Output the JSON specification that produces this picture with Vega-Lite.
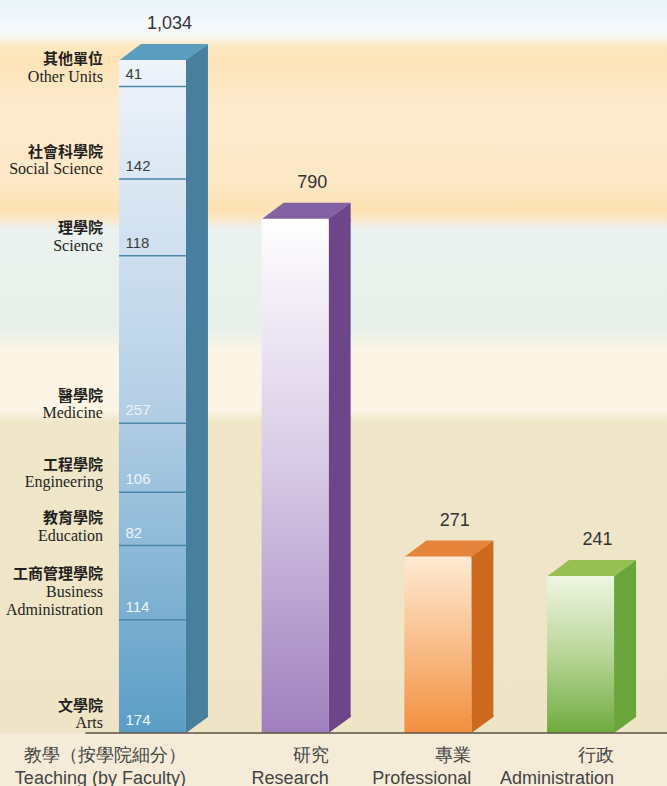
{
  "$schema": "https://vega.github.io/schema/vega-lite/v6.json",
  "width": 667,
  "height": 733,
  "autosize": {"type": "none"},
  "padding": {"left": 0, "top": 0, "right": 0, "bottom": 53},
  "background": "#f4ecd8",
  "view": {
    "stroke": null,
    "fill": {
      "gradient": "linear", "x1": 0, "y1": 0, "x2": 0, "y2": 1,
      "stops": [
        {"offset": 0.0, "color": "#e9f3fa"},
        {"offset": 0.035, "color": "#f4f9fc"},
        {"offset": 0.052, "color": "#f7f6ee"},
        {"offset": 0.062, "color": "#fde8c2"},
        {"offset": 0.08, "color": "#fde4b8"},
        {"offset": 0.15, "color": "#fdebcf"},
        {"offset": 0.25, "color": "#fde8c6"},
        {"offset": 0.285, "color": "#fde2b2"},
        {"offset": 0.3, "color": "#f8e8cc"},
        {"offset": 0.312, "color": "#ebf1ee"},
        {"offset": 0.45, "color": "#e9f0ea"},
        {"offset": 0.48, "color": "#fcf5e6"},
        {"offset": 0.56, "color": "#fcf4e4"},
        {"offset": 0.575, "color": "#f0e6c9"},
        {"offset": 1.0, "color": "#efe4c6"}
      ]
    }
  },
  "config": {"font": "Liberation Sans"},
  "datasets": {
    "totals": [
      {"cat": "教學（按學院細分）|Teaching (by Faculty)", "total": 1034},
      {"cat": "研究|Research", "total": 790},
      {"cat": "專業|Professional", "total": 271},
      {"cat": "行政|Administration", "total": 241}
    ],
    "faculty": [
      {"cat": "教學（按學院細分）|Teaching (by Faculty)", "order": 1, "zh": "文學院", "en": "Arts", "value": 174},
      {"cat": "教學（按學院細分）|Teaching (by Faculty)", "order": 2, "zh": "工商管理學院", "en": "Business\nAdministration", "value": 114},
      {"cat": "教學（按學院細分）|Teaching (by Faculty)", "order": 3, "zh": "教育學院", "en": "Education", "value": 82},
      {"cat": "教學（按學院細分）|Teaching (by Faculty)", "order": 4, "zh": "工程學院", "en": "Engineering", "value": 106},
      {"cat": "教學（按學院細分）|Teaching (by Faculty)", "order": 5, "zh": "醫學院", "en": "Medicine", "value": 257},
      {"cat": "教學（按學院細分）|Teaching (by Faculty)", "order": 6, "zh": "理學院", "en": "Science", "value": 118},
      {"cat": "教學（按學院細分）|Teaching (by Faculty)", "order": 7, "zh": "社會科學院", "en": "Social Science", "value": 142},
      {"cat": "教學（按學院細分）|Teaching (by Faculty)", "order": 8, "zh": "其他單位", "en": "Other Units", "value": 41}
    ]
  },
  "encoding": {
    "x": {
      "field": "cat", "type": "nominal", "sort": null,
      "scale": {
        "domain": ["教學（按學院細分）|Teaching (by Faculty)", "研究|Research", "專業|Professional", "行政|Administration"],
        "paddingInner": 0.5305, "paddingOuter": 0.6023, "align": 0.692
      },
      "axis": {
        "title": null, "domain": false, "ticks": false, "grid": false,
        "labelExpr": "split(datum.label, '|')",
        "labelAngle": 0, "labelAlign": "right", "labelOffset": 33.5,
        "labelBaseline": "top", "labelPadding": 13,
        "labelFont": "Liberation Sans", "labelFontSize": 18, "labelLineHeight": 23,
        "labelColor": "#444444", "labelLimit": 0
      }
    }
  },
  "layer": [
    {
      "data": {"name": "totals"},
      "mark": {"type": "bar", "width": 22, "xOffset": 44.5, "y2Offset": -16},
      "encoding": {
        "y": {"field": "total", "type": "quantitative", "scale": {"domain": [0, 1126], "nice": false, "zero": true}, "axis": null},
        "y2": {"datum": 0},
        "fill": {
          "condition": [
            {"test": "datum.cat === '研究|Research'", "value": "#6d4589"},
            {"test": "datum.cat === '專業|Professional'", "value": "#cc691f"},
            {"test": "datum.cat === '行政|Administration'", "value": "#6ba43a"}
          ],
          "value": "#477f9f"
        }
      }
    },
    {
      "data": {"name": "totals"},
      "mark": {"type": "point", "shape": "M33.5,0 L55.5,-16 L55.5,2 L33.5,2 Z", "size": 4, "filled": true, "opacity": 1, "strokeWidth": 0},
      "encoding": {
        "y": {"field": "total", "type": "quantitative"},
        "fill": {
          "condition": [
            {"test": "datum.cat === '研究|Research'", "value": "#6d4589"},
            {"test": "datum.cat === '專業|Professional'", "value": "#cc691f"},
            {"test": "datum.cat === '行政|Administration'", "value": "#6ba43a"}
          ],
          "value": "#477f9f"
        }
      }
    },
    {
      "data": {"name": "totals"},
      "mark": {"type": "point", "shape": "M33.5,-18 L33.5,0 L55.5,-16 L55.5,-18 Z", "size": 4, "filled": true, "opacity": 1, "strokeWidth": 0},
      "encoding": {
        "y": {"datum": 0, "type": "quantitative"},
        "fill": {
          "condition": [
            {"test": "datum.cat === '研究|Research'", "value": "#6d4589"},
            {"test": "datum.cat === '專業|Professional'", "value": "#cc691f"},
            {"test": "datum.cat === '行政|Administration'", "value": "#6ba43a"}
          ],
          "value": "#477f9f"
        }
      }
    },
    {
      "data": {"name": "totals"},
      "mark": {"type": "point", "shape": "M-33.5,0.5 L33.5,0.5 L55.5,-16 L-11.5,-16 Z", "size": 4, "filled": true, "opacity": 1, "strokeWidth": 0},
      "encoding": {
        "y": {"field": "total", "type": "quantitative"},
        "fill": {
          "condition": [
            {"test": "datum.cat === '研究|Research'", "value": "#8261a5"},
            {"test": "datum.cat === '專業|Professional'", "value": "#e5843a"},
            {"test": "datum.cat === '行政|Administration'", "value": "#97bf52"}
          ],
          "value": "#5b9dbf"
        }
      }
    },
    {
      "data": {"name": "totals"},
      "mark": {"type": "bar", "width": 67},
      "encoding": {
        "y": {"field": "total", "type": "quantitative"},
        "y2": {"datum": 0},
        "fill": {
          "condition": [
            {"test": "datum.cat === '研究|Research'", "value": {"gradient": "linear", "x1": 0, "y1": 0, "x2": 0, "y2": 1, "stops": [{"offset": 0, "color": "#ffffff"}, {"offset": 0.5, "color": "#d6c8e5"}, {"offset": 1, "color": "#9f7fbd"}]}},
            {"test": "datum.cat === '專業|Professional'", "value": {"gradient": "linear", "x1": 0, "y1": 0, "x2": 0, "y2": 1, "stops": [{"offset": 0, "color": "#feead2"}, {"offset": 0.5, "color": "#f8be8a"}, {"offset": 1, "color": "#f28f3e"}]}},
            {"test": "datum.cat === '行政|Administration'", "value": {"gradient": "linear", "x1": 0, "y1": 0, "x2": 0, "y2": 1, "stops": [{"offset": 0, "color": "#eff6e2"}, {"offset": 0.5, "color": "#b8d698"}, {"offset": 1, "color": "#6fab3e"}]}}
          ],
          "value": {"gradient": "linear", "x1": 0, "y1": 0, "x2": 0, "y2": 1, "stops": [{"offset": 0, "color": "#eff4fb"}, {"offset": 0.5, "color": "#b6d0e6"}, {"offset": 1, "color": "#5a9dc5"}]}
        }
      }
    },
    {
      "data": {"name": "faculty"},
      "transform": [
        {"stack": "value", "groupby": ["cat"], "sort": [{"field": "order", "order": "ascending"}], "as": ["v0", "v1"]},
        {"filter": "datum.zh !== '其他單位'"}
      ],
      "mark": {"type": "tick", "thickness": 1.5, "size": 67, "color": "#4b87a8", "opacity": 1},
      "encoding": {
        "y": {"field": "v1", "type": "quantitative"}
      }
    },
    {
      "data": {"name": "faculty"},
      "transform": [
        {"stack": "value", "groupby": ["cat"], "sort": [{"field": "order", "order": "ascending"}], "as": ["v0", "v1"]}
      ],
      "mark": {"type": "text", "align": "left", "baseline": "middle", "dx": -27, "dy": -13, "fontSize": 15, "font": "Liberation Sans"},
      "encoding": {
        "y": {"field": "v0", "type": "quantitative"},
        "text": {"field": "value", "type": "quantitative"},
        "color": {"condition": {"test": "datum.v0 < 500", "value": "#eef4f9"}, "value": "#3d3d3d"}
      }
    },
    {
      "data": {"name": "faculty"},
      "transform": [
        {"stack": "value", "groupby": ["cat"], "sort": [{"field": "order", "order": "ascending"}], "as": ["v0", "v1"]},
        {"calculate": "join(reverse(split(datum.en, '\\n')), '\\n')", "as": "enText"}
      ],
      "mark": {"type": "text", "align": "right", "baseline": "bottom", "dx": -49.5, "dy": -2, "fontSize": 16, "lineHeight": -18, "lineBreak": "\n", "font": "Liberation Serif", "color": "#231f20"},
      "encoding": {
        "y": {"field": "v0", "type": "quantitative"},
        "text": {"field": "enText", "type": "nominal"}
      }
    },
    {
      "data": {"name": "faculty"},
      "transform": [
        {"stack": "value", "groupby": ["cat"], "sort": [{"field": "order", "order": "ascending"}], "as": ["v0", "v1"]},
        {"filter": "indexof(datum.en, '\\n') < 0"}
      ],
      "mark": {"type": "text", "align": "right", "baseline": "bottom", "dx": -49.5, "dy": -19.5, "fontSize": 15, "font": "Noto Sans CJK TC", "fontWeight": "bold", "color": "#231f20"},
      "encoding": {
        "y": {"field": "v0", "type": "quantitative"},
        "text": {"field": "zh", "type": "nominal"}
      }
    },
    {
      "data": {"name": "faculty"},
      "transform": [
        {"stack": "value", "groupby": ["cat"], "sort": [{"field": "order", "order": "ascending"}], "as": ["v0", "v1"]},
        {"filter": "indexof(datum.en, '\\n') >= 0"}
      ],
      "mark": {"type": "text", "align": "right", "baseline": "bottom", "dx": -49.5, "dy": -38, "fontSize": 15, "font": "Noto Sans CJK TC", "fontWeight": "bold", "color": "#231f20"},
      "encoding": {
        "y": {"field": "v0", "type": "quantitative"},
        "text": {"field": "zh", "type": "nominal"}
      }
    },
    {
      "data": {"name": "totals"},
      "mark": {"type": "text", "align": "center", "baseline": "middle", "dx": 17, "dy": -36, "fontSize": 18, "font": "Liberation Sans", "color": "#333333"},
      "encoding": {
        "y": {"field": "total", "type": "quantitative"},
        "text": {"field": "total", "type": "quantitative", "format": ","}
      }
    },
    {
      "data": {"values": [{"cat": "教學（按學院細分）|Teaching (by Faculty)"}]},
      "mark": {"type": "rule", "xOffset": -67, "color": "#5a5245", "strokeWidth": 1.5},
      "encoding": {
        "y": {"datum": 0, "type": "quantitative"},
        "x2": {"value": "width"}
      }
    }
  ]
}
